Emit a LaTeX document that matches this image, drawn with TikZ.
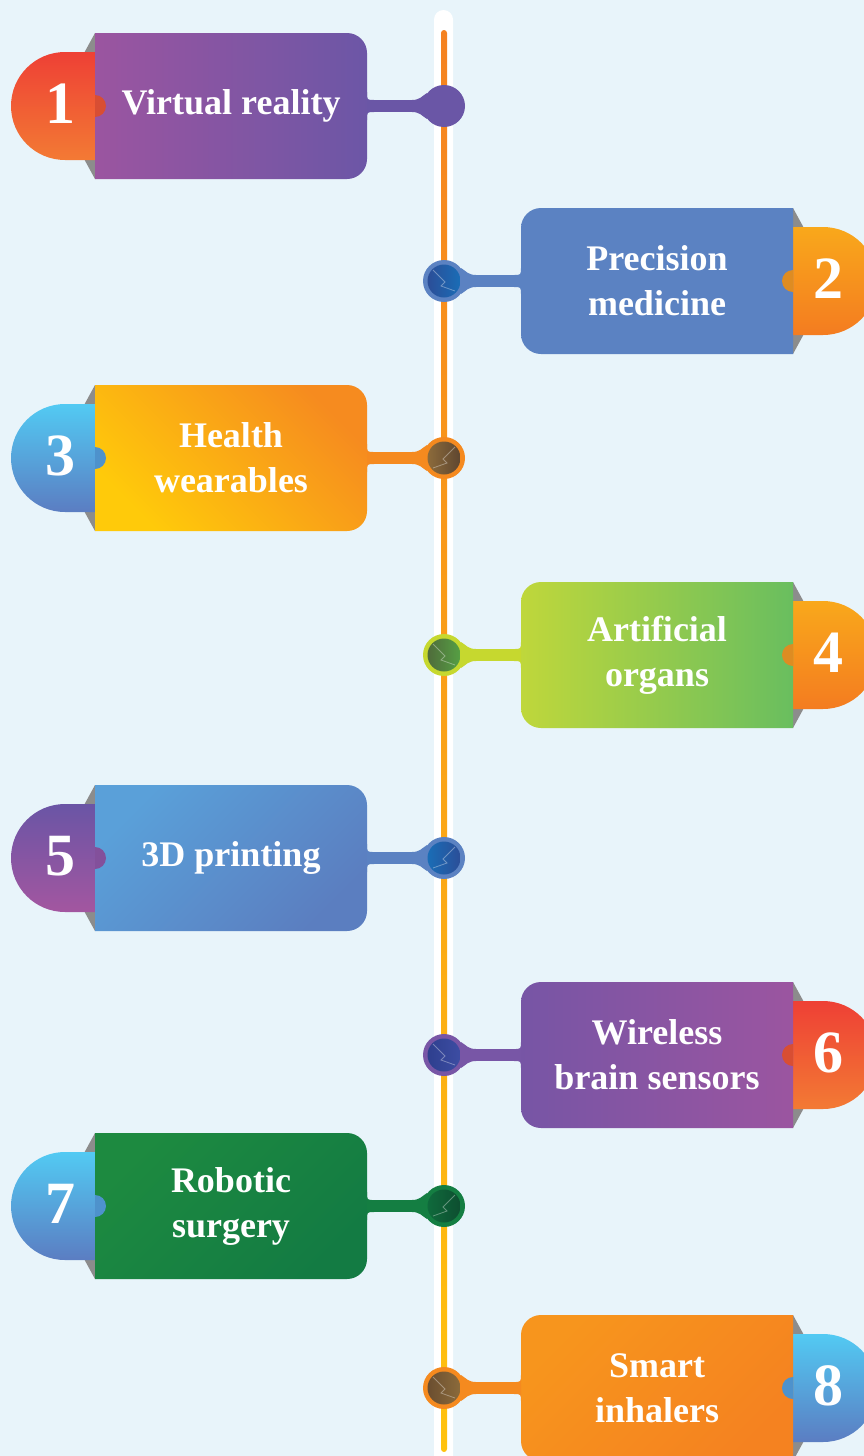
\documentclass[tikz,border=0pt]{standalone}
\usepackage{fontspec}
\setmainfont{Liberation Serif}
\pgfdeclarelayer{bg}
\pgfsetlayers{bg,main}
\definecolor{sky}{HTML}{E8F4FA}
\definecolor{lineO}{HTML}{F58220}
\definecolor{lineY}{HTML}{FFC20E}
% tab palettes: top, bottom, knob
\definecolor{redT}{HTML}{EE4035}\definecolor{redB}{HTML}{F37A34}\definecolor{redK}{HTML}{D84E33}
\definecolor{orgT}{HTML}{F9A81B}\definecolor{orgB}{HTML}{F47C20}\definecolor{orgK}{HTML}{DE8C22}
\definecolor{bluT}{HTML}{52CAF3}\definecolor{bluB}{HTML}{5B7DC2}\definecolor{bluK}{HTML}{4E92CC}
\definecolor{purT}{HTML}{6A55A5}\definecolor{purB}{HTML}{A356A0}\definecolor{purK}{HTML}{83509B}
% boxes: top, bottom, ring, inner left, inner right
\definecolor{bxT1}{HTML}{9B55A0}\definecolor{bxB1}{HTML}{6C56A6}\definecolor{rg1}{HTML}{6A56A6}\definecolor{inL1}{HTML}{6A56A6}\definecolor{inR1}{HTML}{6A56A6}
\definecolor{bxT2}{HTML}{5B82C2}\definecolor{bxB2}{HTML}{5B82C2}\definecolor{rg2}{HTML}{5B82C2}\definecolor{inL2}{HTML}{2B4E98}\definecolor{inR2}{HTML}{1A6DB6}
\definecolor{bxT3}{HTML}{F68B1F}\definecolor{bxB3}{HTML}{FFCA0A}\definecolor{rg3}{HTML}{F58A1F}\definecolor{inL3}{HTML}{8C6B3B}\definecolor{inR3}{HTML}{5E4630}
\definecolor{bxT4}{HTML}{BFD73B}\definecolor{bxB4}{HTML}{69BE5F}\definecolor{rg4}{HTML}{C6D82F}\definecolor{inL4}{HTML}{4F6B3B}\definecolor{inR4}{HTML}{56A044}
\definecolor{bxT5}{HTML}{5AA0D9}\definecolor{bxB5}{HTML}{5B7EC0}\definecolor{rg5}{HTML}{5B82C2}\definecolor{inL5}{HTML}{1A6DB6}\definecolor{inR5}{HTML}{2B4E98}
\definecolor{bxT6}{HTML}{7755A5}\definecolor{bxB6}{HTML}{9B55A0}\definecolor{rg6}{HTML}{7856A6}\definecolor{inL6}{HTML}{2E3F8E}\definecolor{inR6}{HTML}{3D4DA3}
\definecolor{bxT7}{HTML}{1D8A40}\definecolor{bxB7}{HTML}{137B43}\definecolor{rg7}{HTML}{147E42}\definecolor{inL7}{HTML}{0F6A3C}\definecolor{inR7}{HTML}{0E4E30}
\definecolor{bxT8}{HTML}{F7951D}\definecolor{bxB8}{HTML}{F58220}\definecolor{rg8}{HTML}{F58A1F}\definecolor{inL8}{HTML}{6B4E30}\definecolor{inR8}{HTML}{8C6B3B}

\begin{document}
\begin{tikzpicture}[x=1pt,y=-1pt,
  fold/.style={fill=black!45},
  tag/.style={text=white,font=\bfseries\fontsize{36}{45}\selectfont,align=center},
  num/.style={text=white,font=\bfseries\fontsize{60}{60}\selectfont},
  dot/.style={circle,minimum size=42,inner sep=0},
  hand/.style={draw=white,opacity=.35,line width=.8}]
\useasboundingbox (0,0) rectangle (864,1456);
\begin{pgfonlayer}{bg}
\fill[sky] (0,0) rectangle (864,1456);
\fill[white,rounded corners=9.5] (434,10) rectangle (453,1466);
\shade[top color=lineO,bottom color=lineY,rounded corners=3] (441,30) rectangle (447,1452);
\end{pgfonlayer}
\foreach \n/\y/\s/\ang/\tb/\txt in {1/106/1/90/red/Virtual reality, 2/281/-1/0/org/Precision\\medicine, 3/458/1/-45/blu/Health\\wearables, 4/655/-1/90/org/Artificial\\organs, 5/858/1/45/pur/3D printing, 6/1055/-1/90/red/Wireless\\brain sensors, 7/1206/1/45/blu/Robotic\\surgery, 8/1388/-1/45/blu/Smart\\inhalers}{
\begin{scope}[shift={(444,\y)},xscale=\s]
% number tab with its folds
\fill[fold] (-349,-73) -- (-361,-51) -- (-349,-51) -- cycle; \fill[fold] (-349,73) -- (-361,51) -- (-349,51) -- cycle;
\shade[top color=\tb T,bottom color=\tb B] (-349,-54) -- (-379,-54) arc[start angle=-90,end angle=-270,radius=54] -- (-349,54) -- cycle;
\shade[top color=bxT\n,bottom color=bxB\n,shading angle=\ang] (-349,-73) -- (-97,-73) arc[start angle=-90,end angle=0,radius=20] -- (-77,53) arc[start angle=0,end angle=90,radius=20] -- (-349,73) -- cycle;
\fill[fill=\tb K] (-349,-11) arc[start angle=-90,end angle=90,radius=11] -- cycle;
\node[tag] (t\n) at (-213,0) {\txt}; \node[num] (n\n) at (-384,-2) {\n};
% stem and dot on the line
\fill[rg\n] (-77,-14) .. controls (-77,-6) .. (-70,-6) -- (-70,6) .. controls (-77,6) .. (-77,14) -- cycle;
\fill[rg\n] (-32,-6) .. controls (-24,-6) and (-22,-10) .. (-17,-13) -- (-17,13) .. controls (-22,10) and (-24,6) .. (-32,6) -- cycle;
\node[dot,fill=rg\n] (c\n) at (0,0) {};
\shade[left color=inL\n,right color=inR\n] (c\n.center) circle (16.5);
\ifnum\n>1 \draw[hand] (11,-11) -- (-1,1) -- (3,5) -- (-11,10); \fi
\begin{pgfonlayer}{bg}\draw[line width=12,rg\n] (t\n) -- (c\n);\end{pgfonlayer}
\end{scope}}
\end{tikzpicture}
\end{document}
